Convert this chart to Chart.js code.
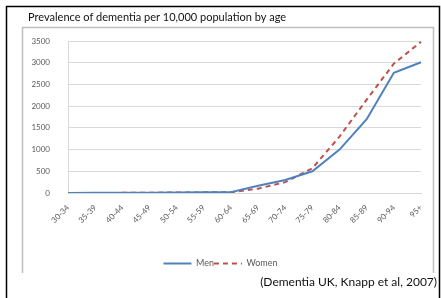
<!DOCTYPE html>
<html><head><meta charset="utf-8">
<script src="https://cdn.jsdelivr.net/npm/chart.js@4/dist/chart.umd.min.js"></script>
<style>html,body{margin:0;padding:0;background:#fff;}canvas{display:block;}</style>
</head><body>
<canvas id="c" width="441" height="298"></canvas>
<script>
const categories = ["30-34","35-39","40-44","45-49","50-54","55-59","60-64","65-69","70-74","75-79","80-84","85-89","90-94","95+"];
const men =   [2, 3, 4, 8, 10, 18, 20, 165, 300, 500, 1000, 1700, 2770, 3010];
const women = [1, 2, 3, 8, 10, 15, 15, 100, 250, 570, 1300, 2150, 2980, 3480];
const yTicks = [0, 500, 1000, 1500, 2000, 2500, 3000, 3500];
const titleText = "Prevalence of dementia per 10,000 population by age";
const sourceText = "(Dementia UK, Knapp et al, 2007)";
const FONT = "Lato, 'Open Sans', sans-serif";

const frame = {
  id: 'frame',
  beforeDraw(chart) {
    const ctx = chart.ctx;
    ctx.save();
    ctx.fillStyle = '#fff';
    ctx.fillRect(0, 0, chart.width, chart.height);
    ctx.strokeStyle = '#000';
    ctx.lineWidth = 1.5;
    ctx.beginPath();
    ctx.moveTo(6.5, 300); ctx.lineTo(6.5, 6.5); ctx.lineTo(439.5, 6.5); ctx.lineTo(439.5, 300);
    ctx.stroke();
    ctx.strokeStyle = '#bfbfbf';
    ctx.lineWidth = 1.5;
    ctx.beginPath();
    ctx.moveTo(22.5, 273); ctx.lineTo(22.5, 27.5); ctx.lineTo(433.5, 27.5); ctx.lineTo(433.5, 273);
    ctx.stroke();
    ctx.fillStyle = '#111';
    ctx.font = "11px " + FONT;
    ctx.textBaseline = 'middle';
    ctx.textAlign = 'left';
    ctx.fillText(titleText, 28, 17);
    ctx.font = "12px " + FONT;
    ctx.textAlign = 'right';
    ctx.fillText(sourceText, 437, 282);
    ctx.restore();
  }
};

new Chart(document.getElementById('c'), {
  type: 'line',
  data: {
    labels: categories,
    datasets: [
      { label: 'Men', data: men, borderColor: '#4f81bd', backgroundColor: '#4f81bd', borderWidth: 2, pointRadius: 0, tension: 0 },
      { label: 'Women', data: women, borderColor: '#c0504d', backgroundColor: '#c0504d', borderWidth: 2, borderDash: [5, 4], pointRadius: 0, tension: 0 }
    ]
  },
  options: {
    responsive: false,
    animation: false,
    layout: { padding: { left: 20, right: 20, top: 41, bottom: 20 } },
    plugins: {
      title: { display: false },
      tooltip: { enabled: false },
      legend: {
        position: 'bottom',
        labels: {
          usePointStyle: true, pointStyle: 'line', pointStyleWidth: 28, boxWidth: 28, boxHeight: 8,
          padding: 0, color: '#595959', font: { family: FONT, size: 9 },
          generateLabels(chart) {
            const items = Chart.defaults.plugins.legend.labels.generateLabels(chart);
            items.forEach(it => {
              const ds = chart.data.datasets[it.datasetIndex];
              it.lineDash = ds.borderDash || [];
              it.strokeStyle = ds.borderColor;
              it.lineWidth = 2;
            });
            return items;
          }
        }
      }
    },
    scales: {
      x: {
        grid: { display: false },
        border: { display: true, color: '#d9d9d9' },
        ticks: { color: '#595959', font: { family: FONT, size: 8 }, maxRotation: 45, minRotation: 45, autoSkip: false, padding: 2 },
        afterFit(s) { s.height = 66; }
      },
      y: {
        min: 0, max: 3500,
        afterBuildTicks(s) { s.ticks = yTicks.map(v => ({ value: v })); },
        grid: { color: '#d9d9d9', drawTicks: false },
        border: { display: true, color: '#d9d9d9' },
        ticks: { color: '#595959', font: { family: FONT, size: 8 }, padding: 18, callback: v => String(v) },
        afterFit(s) { s.width = 48; }
      }
    }
  },
  plugins: [frame]
});
</script>
</body></html>
